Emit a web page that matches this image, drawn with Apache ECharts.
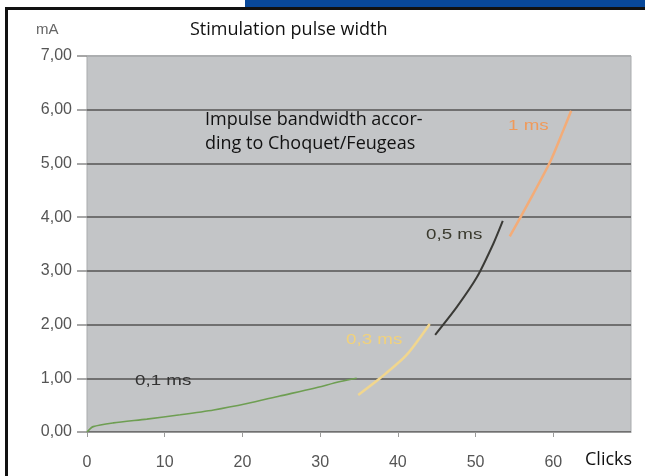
<!DOCTYPE html>
<html>
<head>
<meta charset="utf-8">
<script src="https://cdn.jsdelivr.net/npm/echarts@6/dist/echarts.min.js"></script>
<style>
html,body{margin:0;padding:0;background:#fff;}
#c{width:645px;height:476px;}
</style>
</head>
<body>
<div id="c"></div>
<script>
// Axis ticks
var xTicks = [0, 10, 20, 30, 40, 50, 60, 70];
var yTicks = [0, 1, 2, 3, 4, 5, 6, 7];

// 0,1 ms
var clicks01 = [0, 0.8, 3.4, 7.7, 12.0, 16.3, 20.6, 24.8, 29.1, 32.6, 34.7];
var ma01     = [0, 0.10, 0.17, 0.24, 0.32, 0.41, 0.53, 0.67, 0.81, 0.94, 1.00];
// 0,3 ms
var clicks03 = [34.9, 37.7, 41.1, 44.1];
var ma03     = [0.69, 1.00, 1.43, 2.01];
// 0,5 ms
var clicks05 = [44.8, 47.6, 50.2, 52.3, 53.5];
var ma05     = [1.81, 2.33, 2.89, 3.51, 3.93];
// 1 ms
var clicks1  = [54.4, 57.0, 59.6, 61.3, 62.3];
var ma1      = [3.64, 4.32, 5.03, 5.62, 5.98];

function pairs(xs, ys){ return xs.map(function(x,i){ return [x, ys[i]]; }); }

var chart = echarts.init(document.getElementById('c'), null, {renderer:'canvas'});
var tickFont = {fontFamily:'Liberation Sans', fontSize:16, color:'#555'};

function lineSeries(xs, ys, color, width){
  return {
    type:'line', data:pairs(xs, ys), smooth:0.25, showSymbol:false, symbol:'none',
    lineStyle:{color:color, width:width}, animation:false, z:3
  };
}
function lbl(x, y, text, color){
  return {type:'text', x:x, y:y, scaleX:1.25, style:{text:text, fontFamily:'Liberation Sans', fontSize:15, fill:color, textVerticalAlign:'middle'}, z:10};
}

chart.setOption({
  animation:false,
  backgroundColor:'#fff',
  grid:{left:87, right:14, top:56, bottom:44, show:true, backgroundColor:'#c3c5c7', borderColor:'#a9abad', borderWidth:1},
  xAxis:{
    type:'value', min:xTicks[0], max:xTicks[xTicks.length-1], interval:10,
    axisLine:{show:true, lineStyle:{color:'#9a9a9a', width:1}},
    axisTick:{show:true, length:5, lineStyle:{color:'#9a9a9a'}},
    splitLine:{show:false},
    axisLabel:Object.assign({margin:23, showMaxLabel:false, formatter:function(v){ return v===70?'':String(v); }}, tickFont)
  },
  yAxis:{
    type:'value', min:yTicks[0], max:yTicks[yTicks.length-1], interval:1,
    axisLine:{show:false},
    axisTick:{show:true, length:10, lineStyle:{color:'#8a8a8a', width:1.5}},
    splitLine:{show:true, lineStyle:{color:'#707070', width:2}},
    axisLabel:Object.assign({margin:15, formatter:function(v){ return v.toFixed(2).replace('.', ','); }}, tickFont)
  },
  series:[
    lineSeries(clicks01, ma01, '#6e9e52', 1.6),
    lineSeries(clicks03, ma03, '#f1d68e', 2.5),
    lineSeries(clicks05, ma05, '#3a3a36', 2),
    lineSeries(clicks1, ma1, '#f3ac78', 2.5)
  ],
  graphic:[
    {type:'rect', shape:{x:87, y:55, width:544, height:2}, style:{fill:'#acaeb0'}, z:5},
    {type:'rect', shape:{x:245, y:0, width:400, height:7}, style:{fill:'#08489a'}, z:10},
    {type:'rect', shape:{x:5, y:7, width:640, height:3}, style:{fill:'#111'}, z:10},
    {type:'rect', shape:{x:5, y:7, width:3, height:469}, style:{fill:'#111'}, z:10},
    {type:'text', left:36, top:22, style:{text:'mA', fontFamily:'Liberation Sans', fontSize:15, fill:'#666'}, z:10},
    {type:'text', left:190, top:21, style:{text:'Stimulation pulse width', fontFamily:'Open Sans', fontSize:18, fill:'#111'}, z:10},
    {type:'text', left:205, top:108, style:{text:'Impulse bandwidth accor-\nding to Choquet/Feugeas', fontFamily:'Open Sans', fontSize:18, lineHeight:24, fill:'#111'}, z:10},
    {type:'text', left:585, top:451, style:{text:'Clicks', fontFamily:'Open Sans', fontSize:18, fill:'#111'}, z:10},
    lbl(135, 381, '0,1 ms', '#333'),
    lbl(346, 340, '0,3 ms', '#f2d27a'),
    lbl(426, 235, '0,5 ms', '#3a3a2e'),
    lbl(508, 126, '1 ms', '#f09a5a')
  ]
});
</script>
</body>
</html>
